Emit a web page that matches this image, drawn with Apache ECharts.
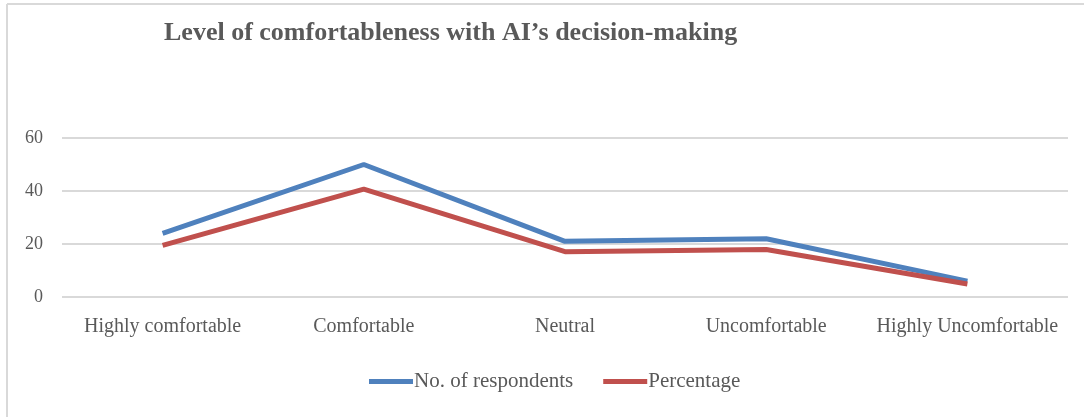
<!DOCTYPE html>
<html>
<head>
<meta charset="utf-8">
<script src="https://cdn.jsdelivr.net/npm/echarts@6/dist/echarts.min.js"></script>
<style>
  html, body { margin: 0; padding: 0; background: #ffffff; }
  #chart { width: 1084px; height: 417px; }
</style>
</head>
<body>
<div id="chart"></div>
<script>
// Survey responses: comfort with AI's decision-making
const categories = ['Highly comfortable', 'Comfortable', 'Neutral', 'Uncomfortable', 'Highly Uncomfortable'];
const respondents = [24, 50, 21, 22, 6];
const percentage = [19.5, 40.7, 17.1, 17.9, 4.9];
const yTicks = [0, 20, 40, 60];

const seriesNames = ['No. of respondents', 'Percentage'];
const textFont = '"Liberation Serif", "DejaVu Serif", serif';
const textColor = '#595959';

const chart = echarts.init(document.getElementById('chart'), null, { renderer: 'canvas' });

chart.setOption({
  animation: false,
  backgroundColor: '#ffffff',
  title: {
    text: 'Level of comfortableness with AI\u2019s decision-making',
    left: 159,
    top: 15,
    textStyle: {
      fontFamily: textFont,
      fontWeight: 'bold',
      fontSize: 26,
      color: textColor
    }
  },
  legend: {
    data: seriesNames,
    bottom: 25,
    left: 369,
    padding: 0,
    itemWidth: 44,
    itemHeight: 5,
    itemGap: 30,
    icon: 'rect',
    textStyle: { fontFamily: textFont, fontSize: 21, color: textColor, padding: [0, 0, 0, -4] }
  },
  grid: { left: 62, right: 16, top: 138, bottom: 120 },
  xAxis: {
    type: 'category',
    data: categories,
    boundaryGap: true,
    axisLine: { show: false },
    axisTick: { show: false },
    axisLabel: {
      margin: 20,
      fontFamily: textFont,
      fontSize: 20,
      color: textColor,
      interval: 0
    }
  },
  yAxis: {
    type: 'value',
    min: yTicks[0],
    max: yTicks[yTicks.length - 1],
    interval: 20,
    axisLine: { show: false },
    axisTick: { show: false },
    axisLabel: {
      margin: 19,
      fontFamily: textFont,
      fontSize: 18,
      color: textColor
    },
    splitLine: { lineStyle: { color: '#d9d9d9', width: 2 } }
  },
  series: [
    {
      name: seriesNames[0],
      type: 'line',
      data: respondents,
      symbol: 'none',
      color: '#4f81bd',
      lineStyle: { width: 5, color: '#4f81bd' }
    },
    {
      name: seriesNames[1],
      type: 'line',
      data: percentage,
      symbol: 'none',
      color: '#c0504d',
      lineStyle: { width: 5, color: '#c0504d' }
    }
  ],
  graphic: [
    { type: 'line', shape: { x1: 7, y1: 4, x2: 1084, y2: 4 }, style: { stroke: '#d9d9d9', lineWidth: 2 } },
    { type: 'line', shape: { x1: 7, y1: 4, x2: 7, y2: 417 }, style: { stroke: '#d9d9d9', lineWidth: 2 } }
  ]
});
</script>
</body>
</html>
